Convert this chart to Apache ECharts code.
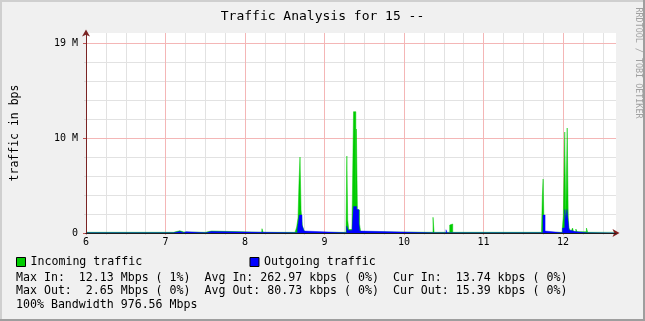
<!DOCTYPE html>
<html>
<head>
<meta charset="utf-8">
<script src="https://cdn.jsdelivr.net/npm/echarts@6/dist/echarts.min.js"></script>
<style>
html,body{margin:0;padding:0;background:#F0F0F0;}
#chart{width:645px;height:321px;}
</style>
</head>
<body>
<div id="chart"></div>
<script>
// ---- data (hours of day, values in Mbps); each value holds until the next hour ----
const inHours = [6.000,7.100,7.125,7.180,7.230,7.500,7.530,7.580,8.210,8.214,8.227,
  8.630,8.650,8.667,8.679,8.692,8.705,8.722,8.740,8.755,
  9.270,9.281,9.292,9.305,9.345,9.365,9.394,9.401,9.414,9.440,9.455,9.470,
  10.365,10.378,10.575,10.595,10.613,
  11.730,11.740,11.750,11.762,11.780,
  11.990,12.004,12.022,12.035,12.053,12.066,12.075,12.100,
  12.120,12.133,12.162,12.175,12.295,12.310,12.667];
const inValues = [0.07,0.12,0.22,0.10,0.07,0.12,0.20,0.07,0.07,0.43,0.07,
  0.25,0.6,1.5,5.0,7.6,2.3,0.7,0.3,0.07,
  0.12,7.7,1.3,0.35,0.12,12.13,2.7,10.4,2.3,0.9,0.12,0.07,
  1.57,0.07,0.8,0.9,0.07,
  0.3,3.7,5.4,0.3,0.07,
  0.3,1.7,10.1,1.6,10.5,1.5,0.5,0.12,
  0.5,0.12,0.4,0.12,0.5,0.07,0.07];
const outHours = [6.000,7.100,7.120,7.180,7.230,7.260,7.510,7.570,
  8.660,8.683,8.717,8.742,8.765,
  9.278,9.300,9.345,9.365,9.404,9.432,9.442,9.455,
  10.365,10.380,10.528,10.542,10.595,10.613,
  11.748,11.775,11.790,
  11.995,12.022,12.035,12.050,12.075,12.100,12.150,12.295,12.310,12.667];
const outValues = [0.02,0.06,0.16,0.03,0.13,0.02,0.15,0.02,
  0.4,1.8,0.8,0.2,0.02,
  0.7,0.25,0.02,2.65,2.35,1.0,0.2,0.02,
  0.2,0.02,0.33,0.02,0.2,0.02,
  1.8,0.2,0.02,
  0.5,2.35,1.3,2.35,0.3,0.15,0.02,0.15,0.02,0.02];

const seriesNames = ['Incoming traffic', 'Outgoing traffic'];
const xTickValues = [6,7,8,9,10,11,12];
const xTickLabels = ['6','7','8','9','10','11','12'];
const yTickValues = [0, 9.5, 19];
const yTickLabels = ['0', '10 M', '19 M'];
const titleText = 'Traffic Analysis for 15 --';
const yAxisTitle = 'traffic in bps';
const statLines = [
  'Max In:  12.13 Mbps ( 1%)  Avg In: 262.97 kbps ( 0%)  Cur In:  13.74 kbps ( 0%)',
  'Max Out:  2.65 Mbps ( 0%)  Avg Out: 80.73 kbps ( 0%)  Cur Out: 15.39 kbps ( 0%)',
  '100% Bandwidth 976.56 Mbps'
];
const sideText = 'RRDTOOL / TOBI OETIKER';

// ---- chart ----
const MONO = 'DejaVu Sans Mono';
const X_MIN = 6, X_MAX = 12 + 2/3;
const Y_MIN = 0, Y_MAX = 20;

function lookup(vals, labels, v) {
  for (let i = 0; i < vals.length; i++) if (Math.abs(vals[i] - v) < 1e-6) return labels[i];
  return '';
}
// step table: each sample's value is held until the next sample's time
function stepTable(hours, values) {
  const out = [];
  for (let i = 0; i < hours.length; i++) {
    out.push([hours[i], values[i]]);
    if (i + 1 < hours.length) out.push([hours[i + 1], values[i]]);
  }
  return out;
}

const chart = echarts.init(document.getElementById('chart'), null, {renderer: 'canvas'});
chart.setOption({
  animation: false,
  backgroundColor: '#F0F0F0',
  title: {
    text: titleText, left: 'center', top: 10, padding: 0,
    textStyle: {fontFamily: MONO, fontSize: 13, fontWeight: 'normal', color: '#000'}
  },
  grid: {left: 86, top: 33, right: 29, bottom: 88, show: true, backgroundColor: '#FFFFFF',
    borderWidth: 0, containLabel: false, outerBoundsMode: 'none'},
  legend: {
    data: seriesNames,
    left: 16, top: 255, padding: 0,
    icon: 'rect', itemWidth: 9, itemHeight: 9, itemGap: 107.3,
    itemStyle: {borderColor: '#000', borderWidth: 1},
    textStyle: {fontFamily: MONO, fontSize: 11.6, color: '#000', lineHeight: 14, padding: 0},
    selectedMode: false
  },
  xAxis: [
    { // minor grid
      type: 'value', position: 'bottom', offset: 0, min: X_MIN, max: X_MAX, interval: 0.25, z: 0,
      axisLine: {show: false}, axisLabel: {show: false},
      axisTick: {show: true, length: 2, lineStyle: {color: '#D8D8D8'}},
      splitLine: {show: true, showMaxLine: false, lineStyle: {color: '#E2E2E2', width: 1}}
    },
    { // major grid + labels
      type: 'value', position: 'bottom', offset: 0, min: X_MIN, max: X_MAX, interval: 1, z: 1,
      axisLine: {show: false},
      axisTick: {show: true, length: 2, lineStyle: {color: '#E99A9A'}},
      axisLabel: {
        show: true, margin: 4, fontFamily: MONO, fontSize: 10, color: '#000',
        showMaxLabel: false,
        formatter: v => lookup(xTickValues, xTickLabels, v)
      },
      splitLine: {show: true, showMaxLine: false, lineStyle: {color: '#F4B6B6', width: 1}}
    },
    { // arrow
      type: 'value', position: 'bottom', offset: 0, min: X_MIN, max: X_MAX, z: 3,
      axisLine: {show: true, onZero: false, lineStyle: {color: '#801F1F', width: 1},
        symbol: ['none', 'arrow'], symbolSize: [6, 7], symbolOffset: [0, 3.5]},
      axisLabel: {show: false}, axisTick: {show: false}, splitLine: {show: false}
    },
    { // dark zero line on top
      type: 'value', position: 'bottom', offset: 0, min: X_MIN, max: X_MAX, z: 4,
      axisLine: {show: true, onZero: false, lineStyle: {color: '#1F1F1F', width: 1}},
      axisLabel: {show: false}, axisTick: {show: false}, splitLine: {show: false}
    }
  ],
  yAxis: [
    { // minor grid
      type: 'value', position: 'left', offset: 0, min: Y_MIN, max: Y_MAX, interval: 1.9, z: 0,
      axisLine: {show: false}, axisLabel: {show: false},
      axisTick: {show: true, length: 2, lineStyle: {color: '#D8D8D8'}},
      splitLine: {show: true, showMaxLine: false, showMinLine: false, lineStyle: {color: '#E2E2E2', width: 1}}
    },
    { // major grid + labels
      type: 'value', position: 'left', offset: 0, min: Y_MIN, max: Y_MAX, interval: 9.5, z: 1,
      name: yAxisTitle, nameLocation: 'middle', nameGap: 65, nameRotate: 90,
      nameTextStyle: {fontFamily: MONO, fontSize: 11.5, color: '#000'},
      axisLine: {show: false},
      axisTick: {show: true, length: 3, lineStyle: {color: '#C05050'}},
      axisLabel: {
        show: true, margin: 8, fontFamily: MONO, fontSize: 10, color: '#000',
        showMaxLabel: false,
        formatter: v => lookup(yTickValues, yTickLabels, v)
      },
      splitLine: {show: true, showMaxLine: false, showMinLine: false, lineStyle: {color: '#F4B6B6', width: 1}}
    },
    { // axis line with arrow
      type: 'value', position: 'left', offset: 0, min: Y_MIN, max: Y_MAX, z: 3,
      axisLine: {show: true, onZero: false, lineStyle: {color: '#7A2424', width: 1},
        symbol: ['none', 'arrow'], symbolSize: [6, 7], symbolOffset: [0, 3.5]},
      axisLabel: {show: false}, axisTick: {show: false}, splitLine: {show: false}
    }
  ],
  series: [
    {
      name: seriesNames[0], type: 'line',
      xAxisIndex: 1, yAxisIndex: 1,
      data: stepTable(inHours, inValues),
      symbol: 'none', showSymbol: false,
      itemStyle: {color: '#00CC00'},
      lineStyle: {color: '#00CC00', width: 0.5},
      areaStyle: {color: '#00CC00', opacity: 1},
      z: 2
    },
    {
      name: seriesNames[1], type: 'line',
      xAxisIndex: 1, yAxisIndex: 1,
      data: stepTable(outHours, outValues),
      symbol: 'none', showSymbol: false,
      itemStyle: {color: '#0000FF'},
      lineStyle: {color: '#0000FF', width: 0.4},
      areaStyle: {color: '#0000FF', opacity: 1},
      z: 2.5
    }
  ],
  graphic: [
    {type: 'rect', shape: {x: 0, y: 0, width: 645, height: 2}, style: {fill: '#CFCFCF'}, silent: true},
    {type: 'rect', shape: {x: 0, y: 0, width: 2, height: 321}, style: {fill: '#CFCFCF'}, silent: true},
    {type: 'rect', shape: {x: 0, y: 319, width: 645, height: 2}, style: {fill: '#9E9E9E'}, silent: true},
    {type: 'rect', shape: {x: 643, y: 0, width: 2, height: 321}, style: {fill: '#9E9E9E'}, silent: true},
    {type: 'text', x: 638.5, y: 63, rotation: -Math.PI / 2, silent: true,
      style: {text: sideText, fontFamily: MONO, fontSize: 8.4, fill: '#A0A0A0', align: 'center', verticalAlign: 'middle'}},
    ...statLines.map((t, i) => ({
      type: 'text', x: 16, y: 277.5 + i * 13.7, silent: true,
      style: {text: t, fontFamily: MONO, fontSize: 11.6, fill: '#000', align: 'left', verticalAlign: 'middle'}
    }))
  ]
});
</script>
</body>
</html>
